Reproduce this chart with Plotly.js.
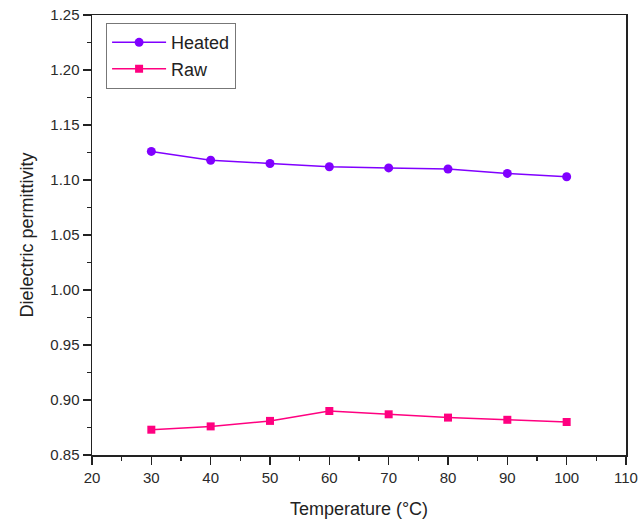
<!DOCTYPE html>
<html>
<head>
<meta charset="utf-8">
<script src="https://cdn.plot.ly/plotly-3.0.1.min.js"></script>
<style>html,body{margin:0;padding:0;background:#fff;}#chart{width:641px;height:526px;}</style>
</head>
<body>
<div id="chart"></div>
<script>
const temperature = [30, 40, 50, 60, 70, 80, 90, 100];
const heated = [1.126, 1.118, 1.115, 1.112, 1.111, 1.110, 1.106, 1.103];
const raw = [0.873, 0.876, 0.881, 0.890, 0.887, 0.884, 0.882, 0.880];
const seriesNames = ["Heated", "Raw"];
const xTicks = [20, 30, 40, 50, 60, 70, 80, 90, 100, 110];
const yTicks = [0.85, 0.90, 0.95, 1.00, 1.05, 1.10, 1.15, 1.20, 1.25];

const font = "Arial, 'Liberation Sans', sans-serif";
const traces = [
  {x: temperature, y: heated, name: seriesNames[0], mode: "lines+markers",
   line: {color: "#8000ff", width: 1.5},
   marker: {symbol: "circle", size: 9, color: "#8000ff"}},
  {x: temperature, y: raw, name: seriesNames[1], mode: "lines+markers",
   line: {color: "#ff0080", width: 1.5},
   marker: {symbol: "square", size: 8, color: "#ff0080"}}
];
const axisCommon = {
  showgrid: false, zeroline: false, showline: true, linecolor: "#222", linewidth: 1.5,
  mirror: true, ticks: "outside", ticklen: 8, tickwidth: 1.5, tickcolor: "#222",
  tickfont: {family: font, size: 15, color: "#2a2a2a"}
};
const layout = {
  width: 641, height: 526,
  margin: {l: 92, r: 15, t: 15, b: 71},
  paper_bgcolor: "#fff", plot_bgcolor: "#fff",
  font: {family: font},
  xaxis: Object.assign({}, axisCommon, {
    range: [20, 110], tickvals: xTicks, ticktext: xTicks.map(String),
    minor: {dtick: 5, ticks: "outside", ticklen: 4, tickwidth: 1.5, tickcolor: "#222", showgrid: false},
    title: {text: "Temperature (°C)", font: {family: font, size: 18, color: "#222"}, standoff: 18}
  }),
  yaxis: Object.assign({}, axisCommon, {
    range: [0.85, 1.25], tickvals: yTicks, ticktext: yTicks.map(v => v.toFixed(2)),
    minor: {dtick: 0.025, ticks: "outside", ticklen: 4, tickwidth: 1.5, tickcolor: "#222", showgrid: false},
    title: {text: "Dielectric permittivity", font: {family: font, size: 18, color: "#222"}, standoff: 12}
  }),
  showlegend: true,
  legend: {
    x: 0.026, y: 0.982, xanchor: "left", yanchor: "top",
    bgcolor: "#fff", bordercolor: "#777", borderwidth: 1.2,
    font: {family: font, size: 18, color: "#222"},
    itemwidth: 54, tracegroupgap: 0
  }
};
Plotly.newPlot("chart", traces, layout, {displayModeBar: false, staticPlot: true});
</script>
</body>
</html>
